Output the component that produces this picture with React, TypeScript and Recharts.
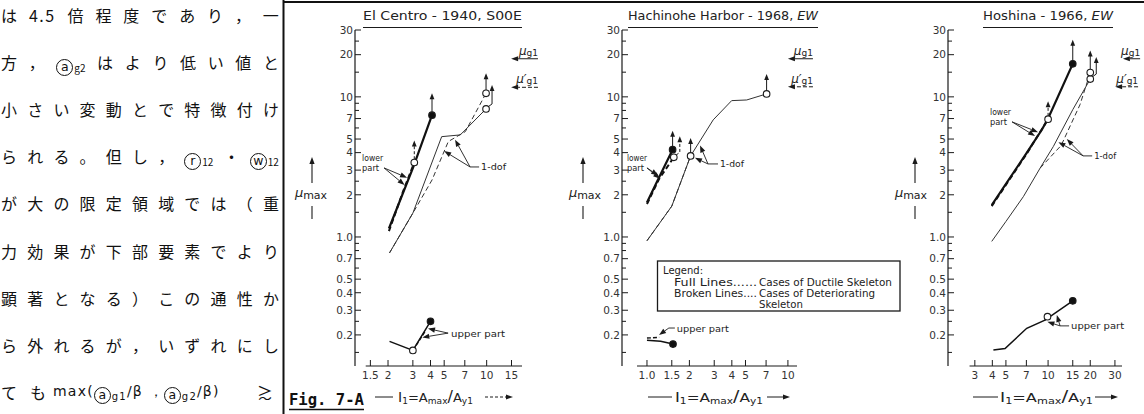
import React from "react";
import { LineChart, Line, XAxis, YAxis, ReferenceLine } from "recharts";

type Pt = { x: number; y: number };

const ink = "#1a1a1a";
const font = "'DejaVu Sans', sans-serif";

// shared log y axis (mu max)
const yMajor = [0.2, 0.3, 0.4, 0.5, 0.7, 1, 2, 3, 4, 5, 7, 10, 20, 30];
const yMinor = [0.15, 0.25, 0.6, 0.8, 0.9, 1.5, 2.5, 6, 8, 9, 15, 25];
const yTicks = [...yMajor, ...yMinor].sort((a, b) => a - b);
const yMin = 0.12;
const yMax = 30;

// El Centro - 1940, S00E
const ecXTicks = [1.5, 2, 3, 4, 5, 7, 10, 15];
const ecLowerFull: Pt[] = [{ x: 2.03, y: 1.15 }, { x: 3.0, y: 3.1 }, { x: 4.1, y: 7.4 }];
const ecLowerBroken: Pt[] = [{ x: 2.03, y: 1.1 }, { x: 2.55, y: 2.1 }, { x: 3.07, y: 3.4 }];
const ecDofFull: Pt[] = [{ x: 2.05, y: 0.77 }, { x: 3.0, y: 1.48 }, { x: 4.8, y: 5.2 }, { x: 6.5, y: 5.35 }, { x: 9.9, y: 8.2 }];
const ecDofBroken: Pt[] = [{ x: 2.05, y: 0.77 }, { x: 3.0, y: 1.48 }, { x: 4.1, y: 2.55 }, { x: 5.35, y: 4.8 }, { x: 7.06, y: 5.65 }, { x: 9.9, y: 10.6 }];
const ecUpperFull: Pt[] = [{ x: 2.05, y: 0.18 }, { x: 3.0, y: 0.155 }, { x: 4.0, y: 0.25 }];
const ecUpperBroken: Pt[] = [{ x: 3.0, y: 0.155 }, { x: 3.7, y: 0.215 }];
const ecMuG1 = 18.7;
const ecMuG1p = 11.7;

// Hachinohe Harbor - 1968, EW
const hhXTicks = [1, 1.5, 2, 3, 4, 5, 7, 10];
const hhLowerFull: Pt[] = [{ x: 1.0, y: 1.76 }, { x: 1.22, y: 2.67 }, { x: 1.52, y: 4.2 }];
const hhLowerBroken: Pt[] = [{ x: 1.0, y: 1.72 }, { x: 1.22, y: 2.6 }, { x: 1.55, y: 3.7 }];
const hhDofFull: Pt[] = [{ x: 1.0, y: 0.94 }, { x: 1.5, y: 1.66 }, { x: 2.04, y: 3.79 }, { x: 2.95, y: 6.85 }, { x: 3.99, y: 9.4 }, { x: 5.1, y: 9.5 }, { x: 7.06, y: 10.5 }];
const hhDofBroken: Pt[] = [{ x: 1.0, y: 0.94 }, { x: 1.5, y: 1.66 }, { x: 2.04, y: 3.79 }];
const hhUpperFull: Pt[] = [{ x: 1.0, y: 0.183 }, { x: 1.25, y: 0.18 }, { x: 1.53, y: 0.172 }];
const hhUpperBroken: Pt[] = [{ x: 1.0, y: 0.19 }, { x: 1.22, y: 0.192 }];
const hhMuG1 = 18.7;
const hhMuG1p = 11.8;

// Hoshina - 1966, EW
const hsXTicks = [3, 4, 5, 7, 10, 15, 20, 30];
const hsLowerFull: Pt[] = [{ x: 3.96, y: 1.69 }, { x: 7, y: 3.95 }, { x: 9, y: 5.8 }, { x: 10, y: 7.0 }, { x: 15, y: 17.2 }];
const hsLowerBroken: Pt[] = [{ x: 3.96, y: 1.66 }, { x: 7, y: 3.9 }, { x: 10, y: 6.93 }];
const hsDofFull: Pt[] = [{ x: 3.96, y: 0.93 }, { x: 5, y: 1.29 }, { x: 6.66, y: 1.94 }, { x: 8.77, y: 3.1 }, { x: 10.9, y: 4.42 }, { x: 15, y: 8.1 }, { x: 20, y: 13.4 }];
const hsDofBroken: Pt[] = [{ x: 8.77, y: 3.1 }, { x: 12.4, y: 4.5 }, { x: 16.9, y: 8.8 }, { x: 20, y: 14.9 }];
const hsUpperFull: Pt[] = [{ x: 4.07, y: 0.156 }, { x: 4.93, y: 0.16 }, { x: 7.04, y: 0.223 }, { x: 9.5, y: 0.255 }, { x: 15, y: 0.35 }];
const hsUpperBroken: Pt[] = [{ x: 9.5, y: 0.255 }, { x: 9.9, y: 0.27 }];
const hsMuG1 = 18.7;
const hsMuG1p = 11.8;

type Mark = { at: number; kind: "filled" | "open"; arrow?: "up" | "hook"; len?: number; dash?: boolean };
type Series = { id: string; data: Pt[]; style: string; marks: Mark[] };
type Leader = { label: string[]; w: number[]; side: "left" | "right"; dash?: number; lx?: number; from: Pt; to: Pt[] };
type MuArrow = { y: number; from: number; to: number; prime: boolean };

const styles: Record<string, { w: number; c: string; d?: string }> = {
  thick: { w: 2.2, c: "#111" },
  thickDash: { w: 2, c: "#111", d: "5 3" },
  thin: { w: 1, c: "#333" },
  thinDash: { w: 1, c: "#333", d: "5 3" },
  upper: { w: 1.5, c: "#111" },
  upperDash: { w: 1.4, c: "#111", d: "4 2" },
};

const panels = [
  {
    id: "ec",
    left: 283,
    width: 277,
    plotLeft: 355,
    plotRight: 522,
    xDomain: [1.167, 17.8],
    xAxisFrom: 1.39,
    xTicks: ecXTicks,
    series: [
      { id: "ecdf", data: ecDofFull, style: "thin", marks: [{ at: -1, kind: "open", arrow: "hook", len: 24 }] },
      { id: "ecdb", data: ecDofBroken, style: "thinDash", marks: [{ at: -1, kind: "open", arrow: "up", len: 20 }] },
      { id: "eclb", data: ecLowerBroken, style: "thickDash", marks: [{ at: -1, kind: "open", arrow: "up", len: 22, dash: true }] },
      { id: "eclf", data: ecLowerFull, style: "thick", marks: [{ at: -1, kind: "filled", arrow: "up", len: 22 }] },
      { id: "ecuf", data: ecUpperFull, style: "upper", marks: [{ at: -1, kind: "filled" }] },
      { id: "ecub", data: ecUpperBroken, style: "upperDash", marks: [{ at: 0, kind: "open" }] },
    ] as Series[],
    leaders: [
      { label: ["lower", "part"], w: [21, 17], side: "left", lx: 22, from: { x: 1.875, y: 3.11 }, to: [{ x: 2.73, y: 2.65 }, { x: 2.62, y: 2.35 }] },
      { label: ["1-dof"], w: [25], side: "right", dash: 9, from: { x: 7.63, y: 3.16 }, to: [{ x: 5.97, y: 4.95 }, { x: 5.0, y: 4.1 }] },
      { label: ["upper part"], w: [54], side: "right", dash: 1, from: { x: 5.33, y: 0.206 }, to: [{ x: 3.84, y: 0.222 }, { x: 3.5, y: 0.192 }] },
    ] as Leader[],
    mu: [
      { y: ecMuG1, from: 23.1, to: 14.9, prime: false },
      { y: ecMuG1p, from: 23.1, to: 14.9, prime: true },
    ] as MuArrow[],
  },
  {
    id: "hh",
    left: 560,
    width: 300,
    plotLeft: 622,
    plotRight: 797,
    xDomain: [0.665, 11.6],
    xAxisFrom: 0.85,
    xTicks: hhXTicks,
    series: [
      { id: "hhdf", data: hhDofFull, style: "thin", marks: [{ at: -1, kind: "open", arrow: "up", len: 20 }] },
      { id: "hhdb", data: hhDofBroken, style: "thinDash", marks: [{ at: -1, kind: "open", arrow: "up", len: 18 }] },
      { id: "hhlb", data: hhLowerBroken, style: "thickDash", marks: [{ at: -1, kind: "open", arrow: "hook", len: 21, dash: true }] },
      { id: "hhlf", data: hhLowerFull, style: "thick", marks: [{ at: -1, kind: "filled", arrow: "up", len: 19 }] },
      { id: "hhuf", data: hhUpperFull, style: "upper", marks: [{ at: -1, kind: "filled" }] },
      { id: "hhub", data: hhUpperBroken, style: "upperDash", marks: [] },
    ] as Series[],
    leaders: [
      { label: ["lower", "part"], w: [20, 17], side: "left", lx: 20, from: { x: 1.0, y: 3.11 }, to: [{ x: 1.2, y: 2.75 }, { x: 1.24, y: 2.6 }] },
      { label: ["1-dof"], w: [24], side: "right", dash: 10, from: { x: 2.71, y: 3.32 }, to: [{ x: 2.38, y: 4.5 }, { x: 2.19, y: 3.67 }] },
      { label: ["upper part"], w: [52], side: "right", dash: 6, from: { x: 1.43, y: 0.224 }, to: [{ x: 1.217, y: 0.2 }] },
    ] as Leader[],
    mu: [
      { y: hhMuG1, from: 15.05, to: 10, prime: false },
      { y: hhMuG1p, from: 15.05, to: 10, prime: true },
    ] as MuArrow[],
  },
  {
    id: "hs",
    left: 860,
    width: 284,
    plotLeft: 948,
    plotRight: 1122,
    xDomain: [1.93, 33.7],
    xAxisFrom: 2.75,
    xTicks: hsXTicks,
    series: [
      { id: "hsdf", data: hsDofFull, style: "thin", marks: [{ at: -1, kind: "open", arrow: "hook", len: 22 }] },
      { id: "hsdb", data: hsDofBroken, style: "thinDash", marks: [{ at: -1, kind: "open", arrow: "up", len: 22 }] },
      { id: "hslb", data: hsLowerBroken, style: "thickDash", marks: [{ at: -1, kind: "open", arrow: "up", len: 18, dash: true }] },
      { id: "hslf", data: hsLowerFull, style: "thick", marks: [{ at: -1, kind: "filled", arrow: "up", len: 24 }] },
      { id: "hsuf", data: hsUpperFull, style: "upper", marks: [{ at: -1, kind: "filled" }] },
      { id: "hsub", data: hsUpperBroken, style: "upperDash", marks: [{ at: -1, kind: "open" }] },
    ] as Series[],
    leaders: [
      { label: ["lower", "part"], w: [21, 17], side: "left", lx: 22, from: { x: 5.53, y: 6.63 }, to: [{ x: 8.48, y: 5.6 }, { x: 8.07, y: 5.25 }] },
      { label: ["1-dof"], w: [22], side: "right", dash: 9, from: { x: 17.8, y: 3.79 }, to: [{ x: 13.6, y: 5.0 }, { x: 11.85, y: 4.75 }] },
      { label: ["upper part"], w: [53], side: "right", dash: 9, from: { x: 12.18, y: 0.232 }, to: [{ x: 11.54, y: 0.277 }, { x: 9.89, y: 0.248 }] },
    ] as Leader[],
    mu: [
      { y: hsMuG1, from: 45.4, to: 34.2, prime: false },
      { y: hsMuG1p, from: 43.9, to: 30.1, prime: true },
    ] as MuArrow[],
  },
];

const head = (x1: number, y1: number, x2: number, y2: number, L = 7, W = 2.6) => {
  const a = Math.atan2(y2 - y1, x2 - x1);
  const c = Math.cos(a);
  const s = Math.sin(a);
  const bx = x2 - L * c;
  const by = y2 - L * s;
  return { bx, by, pts: `${x2},${y2} ${bx - W * s},${by + W * c} ${bx + W * s},${by - W * c}` };
};

const fmt = (v: number) => (v === 1 ? "1.0" : String(v));

const YTick = (p: any) => {
  const v = p.payload.value;
  const major = yMajor.includes(v);
  return (
    <g>
      <line x1={p.x} x2={p.x + (major ? 6 : 4)} y1={p.y} y2={p.y} stroke={ink} strokeWidth={1} />
      {major && (
        <text x={p.x - 2} y={p.y} dy={3.8} textAnchor="end" fontSize={10.5} fill="#333" fontFamily={font}>
          {fmt(v)}
        </text>
      )}
    </g>
  );
};

const XTick = (p: any) => (
  <g>
    <line x1={p.x} x2={p.x} y1={p.y} y2={p.y - 6} stroke={ink} strokeWidth={1} />
    <text x={p.x} y={p.y + 13} textAnchor="middle" fontSize={10.5} fill="#333" fontFamily={font}>
      {fmt(p.payload.value)}
    </text>
  </g>
);

const makeDot = (s: Series) => (p: any) => {
  const { cx, cy, index } = p;
  const k = `${s.id}-${index}`;
  const m = s.marks.find((mk) => (mk.at < 0 ? s.data.length + mk.at : mk.at) === index);
  if (!m || cx == null || cy == null) return <g key={k} />;
  const r = 3.3;
  const len = m.len ?? 20;
  const top = cy - len;
  const dash = m.dash ? "3 2" : undefined;
  let arrow = null;
  if (m.arrow === "up") {
    arrow = (
      <g>
        <line x1={cx} y1={cy - r} x2={cx} y2={top + 5} stroke={ink} strokeWidth={1} strokeDasharray={dash} />
        <polygon points={`${cx},${top} ${cx - 2.4},${top + 6} ${cx + 2.4},${top + 6}`} fill={ink} />
      </g>
    );
  } else if (m.arrow === "hook") {
    const hx = cx + 6;
    arrow = (
      <g>
        <path d={`M${cx + 2.3},${cy - 2.3} L${hx},${cy - 5} L${hx},${top + 5}`} fill="none" stroke={ink} strokeWidth={1} strokeDasharray={dash} />
        <polygon points={`${hx},${top} ${hx - 2.4},${top + 6} ${hx + 2.4},${top + 6}`} fill={ink} />
      </g>
    );
  }
  return (
    <g key={k}>
      {arrow}
      <circle cx={cx} cy={cy} r={r} fill={m.kind === "filled" ? "#111" : "#fff"} stroke={ink} strokeWidth={1.1} />
    </g>
  );
};

const leaderShape = (ld: Leader | null) => (p: any) => {
  const { x1, y1, x2, y2 } = p;
  const h = head(x1, y1, x2, y2);
  let label = null;
  if (ld && ld.side === "left") {
    const lx = ld.lx ?? 22;
    label = (
      <g fontSize={9.5} fill="#222" fontFamily={font}>
        <text x={x1 - lx} y={y1 - 7} textLength={ld.w[0]} lengthAdjust="spacingAndGlyphs">{ld.label[0]}</text>
        <text x={x1 - lx} y={y1 + 3.5} textLength={ld.w[1]} lengthAdjust="spacingAndGlyphs">{ld.label[1]}</text>
      </g>
    );
  } else if (ld) {
    const d = ld.dash ?? 8;
    label = (
      <g>
        {d > 2 && <line x1={x1} y1={y1} x2={x1 + d} y2={y1} stroke={ink} strokeWidth={0.9} />}
        <text x={x1 + d + 2} y={y1 + 3.5} fontSize={9.5} fill="#222" fontFamily={font} textLength={ld.w[0]} lengthAdjust="spacingAndGlyphs">
          {ld.label[0]}
        </text>
      </g>
    );
  }
  return (
    <g>
      <line x1={x1} y1={y1} x2={h.bx} y2={h.by} stroke={ink} strokeWidth={0.9} />
      <polygon points={h.pts} fill={ink} />
      {label}
    </g>
  );
};

const muShape = (prime: boolean) => (p: any) => {
  const { x1, y1, x2, y2 } = p;
  const h = head(x1, y1, x2, y2, 7, 2.5);
  return (
    <g>
      <line x1={x1} y1={y1} x2={h.bx} y2={h.by} stroke={ink} strokeWidth={1} strokeDasharray={prime ? "4 2" : undefined} />
      <polygon points={h.pts} fill={ink} />
      <text x={x1} y={y1 - 4} textAnchor="end" fill="#222" fontFamily={font}>
        <tspan fontSize={12} fontStyle="italic">{prime ? "μ′" : "μ"}</tspan>
        <tspan fontSize={9} dy={1}>g1</tspan>
      </text>
    </g>
  );
};

function Panel({ cfg }: { cfg: (typeof panels)[number] }) {
  const margin = {
    top: 30,
    right: cfg.left + cfg.width - cfg.plotRight,
    left: cfg.plotLeft - cfg.left - 40,
    bottom: 18,
  };
  return (
    <div style={{ position: "absolute", left: cfg.left, top: 0 }}>
      <LineChart width={cfg.width} height={414} margin={margin}>
        <XAxis
          dataKey="x"
          type="number"
          scale="log"
          domain={cfg.xDomain}
          allowDataOverflow
          ticks={cfg.xTicks}
          interval={0}
          axisLine={false}
          tickLine={false}
          tickSize={0}
          tickMargin={0}
          tick={XTick}
          height={30}
        />
        <YAxis
          type="number"
          scale="log"
          domain={[yMin, yMax]}
          allowDataOverflow
          ticks={yTicks}
          interval={0}
          tickLine={false}
          tickSize={0}
          tickMargin={0}
          tick={YTick}
          width={40}
          axisLine={{ stroke: ink, strokeWidth: 1.2 }}
        />
        <ReferenceLine
          segment={[{ x: cfg.xAxisFrom, y: yMin }, { x: cfg.xDomain[1], y: yMin }]}
          stroke={ink}
          strokeWidth={1.2}
          ifOverflow="visible"
        />
        {cfg.series.map((s) => {
          const st = styles[s.style];
          return (
            <Line
              key={s.id}
              data={s.data}
              dataKey="y"
              type="linear"
              stroke={st.c}
              strokeWidth={st.w}
              strokeDasharray={st.d}
              dot={makeDot(s)}
              activeDot={false}
              legendType="none"
              isAnimationActive={false}
            />
          );
        })}
        {cfg.leaders.flatMap((ld, i) =>
          ld.to.map((t, j) => (
            <ReferenceLine
              key={`ld-${i}-${j}`}
              segment={[ld.from, t]}
              ifOverflow="visible"
              shape={leaderShape(j === 0 ? ld : null)}
            />
          ))
        )}
        {cfg.mu.map((m, i) => (
          <ReferenceLine
            key={`mu-${i}`}
            segment={[{ x: m.from, y: m.y }, { x: m.to, y: m.y }]}
            ifOverflow="visible"
            shape={muShape(m.prime)}
          />
        ))}
      </LineChart>
    </div>
  );
}

type Piece = string | { sub: string } | { circ: string };
type Tok = string | Piece[];

const jpLines: Tok[][] = [
  ["は", "4.5", "倍", "程", "度", "で", "あ", "り", "，", "一"],
  ["方", "，", [{ circ: "a" }, { sub: "g2" }], "は", "よ", "り", "低", "い", "値", "と"],
  [..."小さい変動とで特徴付け"],
  ["ら", "れ", "る", "。", "但", "し", "，", [{ circ: "r" }, { sub: "12" }], "・", [{ circ: "w" }, { sub: "12" }]],
  [..."が大の限定領域では（重"],
  [..."力効果が下部要素でより"],
  [..."顕著となる）この通性か"],
  [..."ら外れるが，いずれにし"],
];
const jpLast: Piece[] = ["max(", { circ: "a" }, { sub: "g1" }, "/β ，", { circ: "a" }, { sub: "g2" }, "/β)"];

const Circ = ({ ch }: { ch: string }) => (
  <span
    style={{
      display: "inline-block",
      width: 17,
      height: 17,
      border: "1.5px solid #111",
      borderRadius: "50%",
      boxSizing: "border-box",
      fontSize: 12.5,
      lineHeight: "13px",
      textAlign: "center",
      verticalAlign: "-3px",
      fontFamily: font,
      letterSpacing: 0,
    }}
  >
    {ch}
  </span>
);

const renderPieces = (t: Piece[]) =>
  t.map((pc, i) => {
    if (typeof pc === "string") return <span key={i}>{pc}</span>;
    if ("circ" in pc) return <Circ key={i} ch={pc.circ} />;
    return (
      <span key={i} style={{ fontSize: 10, position: "relative", top: 4, marginLeft: 1 }}>
        {pc.sub}
      </span>
    );
  });

const renderTok = (t: Tok) => (typeof t === "string" ? t : renderPieces(t));

const lineBox = (i: number): React.CSSProperties => ({
  position: "absolute",
  left: 1,
  top: 15 + i * 47.1 - 12,
  width: 278,
  height: 24,
  lineHeight: "24px",
  display: "flex",
  alignItems: "center",
  whiteSpace: "nowrap",
  fontFamily: "'Noto Sans CJK JP', sans-serif",
  fontSize: 16,
  color: "#111",
});

function JapaneseColumn() {
  return (
    <>
      {jpLines.map((line, i) => (
        <div key={i} style={{ ...lineBox(i), justifyContent: "space-between" }}>
          {line.map((tok, j) => (
            <span key={j} style={tok === "4.5" ? { letterSpacing: 1.5 } : undefined}>
              {renderTok(tok)}
            </span>
          ))}
        </div>
      ))}
      <div style={{ ...lineBox(8), width: 272 }}>
        <span style={{ marginRight: 13 }}>て</span>
        <span style={{ marginRight: 7 }}>も</span>
        <span style={{ fontSize: 14, letterSpacing: 1.2, fontFamily: font }}>{renderPieces(jpLast)}</span>
        <span style={{ marginLeft: "auto" }}>≳</span>
      </div>
    </>
  );
}

const titles = [
  { main: "El Centro - 1940, S00E", ital: "", x: 363, w: 159 },
  { main: "Hachinohe Harbor - 1968, ", ital: "EW", x: 628, w: 190 },
  { main: "Hoshina - 1966, ", ital: "EW", x: 983, w: 130 },
];

const muMax = [
  { ax: 312, tx: 311 },
  { ax: 583, tx: 585 },
  { ax: 915, tx: 911 },
];

const xLabels = [
  { l0: 375, l1: 393, tx: 398, tw: 75, a0: 485, a1: 513, dashed: true },
  { l0: 648, l1: 672, tx: 675, tw: 88, a0: 767, a1: 790, dashed: false },
  { l0: 973, l1: 998, tx: 1000, tw: 93, a0: 1095, a1: 1118, dashed: false },
];

function Overlay() {
  return (
    <svg width={1144} height={414} style={{ position: "absolute", left: 0, top: 0, pointerEvents: "none" }}>
      <line x1={283.5} y1={0} x2={283.5} y2={414} stroke="#111" strokeWidth={2} />
      <line x1={283} y1={2} x2={1144} y2={2} stroke="#111" strokeWidth={2} />
      {titles.map((t, i) => (
        <g key={i}>
          <text x={t.x} y={20} fontSize={12.5} fill="#222" fontFamily={font} textLength={t.w} lengthAdjust="spacingAndGlyphs">
            {t.main}
            {t.ital && <tspan fontStyle="italic">{t.ital}</tspan>}
          </text>
          <line x1={t.x} y1={27.5} x2={t.x + t.w} y2={27.5} stroke={ink} strokeWidth={1.1} />
        </g>
      ))}
      {muMax.map((m, i) => (
        <g key={i}>
          <line x1={m.ax} y1={183} x2={m.ax} y2={163} stroke={ink} strokeWidth={1.1} />
          <polygon points={`${m.ax},157 ${m.ax - 2.6},164 ${m.ax + 2.6},164`} fill={ink} />
          <text x={m.tx} y={197} textAnchor="middle" fill="#222" fontFamily={font}>
            <tspan fontSize={13} fontStyle="italic">μ</tspan>
            <tspan fontSize={11} dy={1.5}>max</tspan>
          </text>
          <line x1={m.ax} y1={206} x2={m.ax} y2={219} stroke={ink} strokeWidth={1.1} />
        </g>
      ))}
      {xLabels.map((l, i) => (
        <g key={i}>
          <line x1={l.l0} y1={397} x2={l.l1} y2={397} stroke={ink} strokeWidth={1} />
          <text x={l.tx} y={402} fill="#222" fontFamily={font} textLength={l.tw} lengthAdjust="spacingAndGlyphs">
            <tspan fontSize={14}>I</tspan>
            <tspan fontSize={9} dy={2}>1</tspan>
            <tspan fontSize={13} dy={-2}>=A</tspan>
            <tspan fontSize={9} dy={2}>max</tspan>
            <tspan fontSize={16} dy={-2}>/</tspan>
            <tspan fontSize={13}>A</tspan>
            <tspan fontSize={9} dy={2}>y1</tspan>
          </text>
          <line x1={l.a0} y1={397} x2={l.a1 - 6} y2={397} stroke={ink} strokeWidth={1} strokeDasharray={l.dashed ? "3 2" : undefined} />
          <polygon points={`${l.a1},397 ${l.a1 - 7},394.4 ${l.a1 - 7},399.6`} fill={ink} />
        </g>
      ))}
      <g>
        <rect x={657.5} y={261} width={242.5} height={50} fill="#fff" stroke={ink} strokeWidth={1.3} />
        <g fontSize={10.5} fill="#222" fontFamily={font}>
          <text x={663} y={274} textLength={40} lengthAdjust="spacingAndGlyphs">Legend:</text>
          <text x={674} y={285.5} textLength={83} lengthAdjust="spacingAndGlyphs">Full Lines......</text>
          <text x={759} y={285.5} textLength={133} lengthAdjust="spacingAndGlyphs">Cases of Ductile Skeleton</text>
          <text x={674} y={297} textLength={83} lengthAdjust="spacingAndGlyphs">Broken Lines....</text>
          <text x={759} y={297} textLength={116} lengthAdjust="spacingAndGlyphs">Cases of Deteriorating</text>
          <text x={759} y={308} textLength={44} lengthAdjust="spacingAndGlyphs">Skeleton</text>
        </g>
      </g>
      <text x={289} y={405} fontSize={15} fontWeight="bold" fontFamily="'DejaVu Sans Mono', monospace" fill="#111" textLength={75} lengthAdjust="spacingAndGlyphs">
        Fig. 7-A
      </text>
      <line x1={289} y1={409.5} x2={364} y2={409.5} stroke="#111" strokeWidth={1.5} />
    </svg>
  );
}

export default function App() {
  return (
    <div style={{ position: "absolute", left: 0, top: 0, width: 1144, height: 414, background: "#fff", overflow: "hidden", fontFamily: font }}>
      <JapaneseColumn />
      {panels.map((p) => (
        <Panel key={p.id} cfg={p} />
      ))}
      <Overlay />
    </div>
  );
}
